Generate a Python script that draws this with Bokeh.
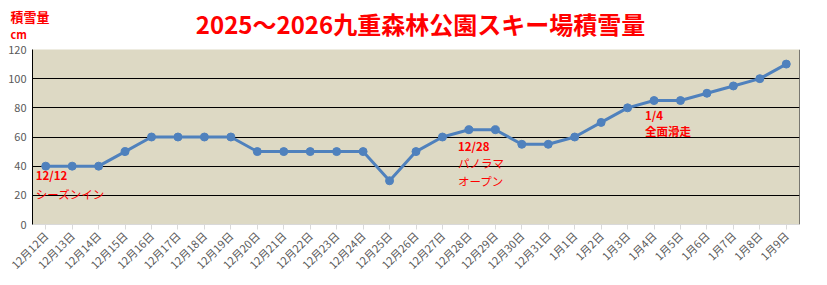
from bokeh.plotting import figure
from bokeh.layouts import column
from bokeh.models import FixedTicker, Span, Range1d
from bokeh.embed import file_html
from bokeh.resources import INLINE
from bokeh.core.properties import value
import math

dates = ["12月12日", "12月13日", "12月14日", "12月15日", "12月16日", "12月17日", "12月18日",
         "12月19日", "12月20日", "12月21日", "12月22日", "12月23日", "12月24日", "12月25日",
         "12月26日", "12月27日", "12月28日", "12月29日", "12月30日", "12月31日", "1月1日",
         "1月2日", "1月3日", "1月4日", "1月5日", "1月6日", "1月7日", "1月8日", "1月9日"]
snow_cm = [40, 40, 40, 50, 60, 60, 60, 60, 50, 50, 50, 50, 50, 30, 50, 60, 65, 65, 55, 55,
           60, 70, 80, 85, 85, 90, 95, 100, 110]
y_ticks = [0, 20, 40, 60, 80, 100, 120]

note_x = ["12月12日", "12月12日", "12月28日", "12月28日", "12月28日", "1月4日", "1月4日"]
note_y = [34, 21, 54, 42, 30, 75, 64]
note_text = ["12/12", "シーズンイン", "12/28", "パノラマ", "オープン", "1/4", "全面滑走"]
note_bold = ["bold", "normal", "bold", "normal", "normal", "bold", "bold"]
note_dx = [-10, -10, -11, -11, -11, -9, -9]

title_text = "2025～2026九重森林公園スキー場積雪量"
unit_title = "積雪量"
unit_text = "cm"

FONT = "Noto Sans CJK JP"

# ---- header strip (title + unit) ----
TOP_H = 41
head = figure(width=827, height=TOP_H, x_range=Range1d(0, 827), y_range=Range1d(0, TOP_H),
              output_backend="svg", toolbar_location=None, min_border=0)
head.axis.visible = False
head.grid.visible = False
head.outline_line_color = None
head.background_fill_color = "white"
head.border_fill_color = "white"
head.text(x=[420], y=[TOP_H - 23], text=[title_text], text_align="center", text_baseline="middle",
          text_color="red", text_font=value(FONT), text_font_style="bold", text_font_size="24px")
head.text(x=[10], y=[TOP_H - 16], text=[unit_title], text_align="left", text_baseline="middle",
          text_color="red", text_font=value(FONT), text_font_style="bold", text_font_size="13px")
head.text(x=[10], y=[TOP_H - 33], text=[unit_text], text_align="left", text_baseline="middle",
          text_color="red", text_font=value(FONT), text_font_style="bold", text_font_size="11px")

# ---- main chart ----
p = figure(width=827, height=285 - TOP_H, x_range=dates, y_range=(0, 120),
           output_backend="svg", toolbar_location=None,
           min_border_left=32, min_border_right=28, min_border_top=8, min_border_bottom=61)

p.background_fill_color = "#DDD9C4"
p.border_fill_color = "white"
p.outline_line_color = None

p.xgrid.grid_line_color = None
p.ygrid.ticker = FixedTicker(ticks=[20, 40, 60, 80, 100, 120])
p.ygrid.grid_line_color = "black"
p.ygrid.grid_line_width = 1

p.yaxis.ticker = FixedTicker(ticks=y_ticks)
p.yaxis.axis_line_color = "black"
p.yaxis.major_tick_line_color = None
p.yaxis.minor_tick_line_color = None
p.yaxis.major_tick_out = 0
p.yaxis.major_tick_in = 0
p.yaxis.major_label_text_font = FONT
p.yaxis.major_label_text_font_size = "11px"
p.yaxis.major_label_text_color = "#595959"
p.yaxis.major_label_standoff = 6

p.xaxis.axis_line_color = "#D9D9D9"
p.xaxis.major_tick_line_color = "#D9D9D9"
p.xaxis.major_tick_out = 5
p.xaxis.major_tick_in = 0
p.xaxis.major_label_orientation = math.pi / 4
p.xaxis.major_label_text_font = FONT
p.xaxis.major_label_text_font_size = "11px"
p.xaxis.major_label_text_color = "#595959"
p.xaxis.major_label_standoff = 4

p.add_layout(Span(location=len(dates), dimension="height", line_color="black", line_width=1))

p.line(dates, snow_cm, line_color="#4F81BD", line_width=3)
p.scatter(dates, snow_cm, size=8, fill_color="#4F81BD", line_color="#4F81BD")

for xx, yy, tt, bb, dx in zip(note_x, note_y, note_text, note_bold, note_dx):
    p.text(x=[xx], y=[yy], text=[tt], x_offset=dx, text_align="left", text_baseline="middle",
           text_color="red", text_font=value(FONT), text_font_style=bb, text_font_size="11.5px")

layout = column(column(head), p, spacing=0)
open("out.html", "w").write(file_html(layout, INLINE))
